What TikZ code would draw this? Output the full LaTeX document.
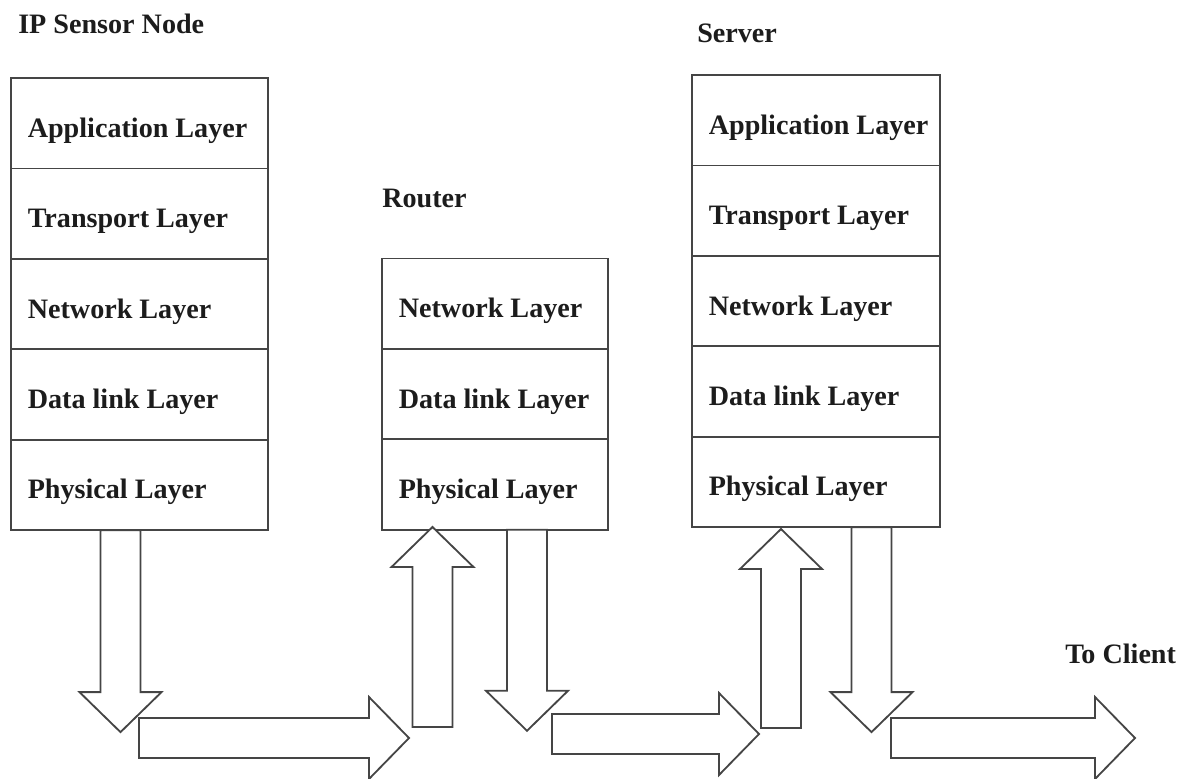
\documentclass[tikz,border=0pt]{standalone}
\usepackage{fontspec}
\setmainfont{Liberation Serif}
\usepackage{xcolor}
\usepackage{tikz}
\usetikzlibrary{positioning,calc}
\definecolor{Ink}{HTML}{1C1C1C}
\definecolor{Edge}{HTML}{454545}
\tikzset{pics/blockarrow/.style={code={
  \draw[blk] (0,20) -- (#1-40,20) -- (#1-40,41) -- (#1,0) -- (#1-40,-41) -- (#1-40,-20) -- (0,-20) -- cycle;}}}

\begin{document}
\begin{tikzpicture}[x=0.025cm,y=-0.025cm,
    lay/.style={draw=Edge,line width=1.3pt,outer sep=0pt,minimum height=2.26cm,inner xsep=0.42cm,text height=20pt,text depth=0pt,text=Ink,font=\fontsize{20}{24}\selectfont\bfseries,
      execute at begin node={\hbox to #1\bgroup},execute at end node={\hss\egroup}},
    hd/.style={anchor=base west,inner sep=0pt,text=Ink,font=\fontsize{20}{24}\selectfont\bfseries},
    blk/.style={draw=Edge,line width=1.3pt,fill=white,line join=miter}]
    \useasboundingbox (0,0) rectangle (1188,778);
    % IP sensor node
    \node[lay=5.575cm,anchor=north west] (s1) at (11,78) {Application Layer};
    \node[lay=5.575cm,below=0pt of s1] (s2) {Transport Layer};
    \node[lay=5.575cm,below=0pt of s2] (s3) {Network Layer};
    \node[lay=5.575cm,below=0pt of s3] (s4) {Data link Layer};
    \node[lay=5.575cm,below=0pt of s4] (s5) {Physical Layer};
    % router
    \node[lay=4.8cm,anchor=north west] (r1) at (382,258.5) {Network Layer};
    \node[lay=4.8cm,below=0pt of r1] (r2) {Data link Layer};
    \node[lay=4.8cm,below=0pt of r2] (r3) {Physical Layer};
    % server
    \node[lay=5.36cm,anchor=north west] (v1) at (692,75) {Application Layer};
    \node[lay=5.36cm,below=0pt of v1] (v2) {Transport Layer};
    \node[lay=5.36cm,below=0pt of v2] (v3) {Network Layer};
    \node[lay=5.36cm,below=0pt of v3] (v4) {Data link Layer};
    \node[lay=5.36cm,below=0pt of v4] (v5) {Physical Layer};
    % titles
    \node[hd] (sensorlbl) at ($(s1.north west)+(7,-45)$) {IP Sensor Node};
    \node[hd] (routerlbl) at ($(r1.north west)+(0,-51)$) {Router};
    \node[hd] (serverlbl) at ($(v1.north west)+(5,-33)$) {Server};
    \node[hd] (clientlbl) at (1065,663) {To Client};
    % block arrows
    \coordinate (t1) at ($(s5.south west)+(109.5,0)$);
    \coordinate (t2) at (139,738);
    \coordinate (t3) at (432.5,727);
    \coordinate (t4) at ($(r3.south west)+(145,0)$);
    \coordinate (t5) at (552,734);
    \coordinate (t6) at (781,728);
    \coordinate (t7) at ($(v5.south west)+(179.5,0)$);
    \coordinate (t8) at (891,738);
    \pic[rotate=-90] at (t1) {blockarrow=202};
    \pic at (t2) {blockarrow=270};
    \pic[rotate=90] at (t3) {blockarrow=200};
    \pic[rotate=-90] at (t4) {blockarrow=201};
    \pic at (t5) {blockarrow=207};
    \pic[rotate=90] at (t6) {blockarrow=199};
    \pic[rotate=-90] at (t7) {blockarrow=205};
    \pic at (t8) {blockarrow=244};
\end{tikzpicture}
\end{document}
